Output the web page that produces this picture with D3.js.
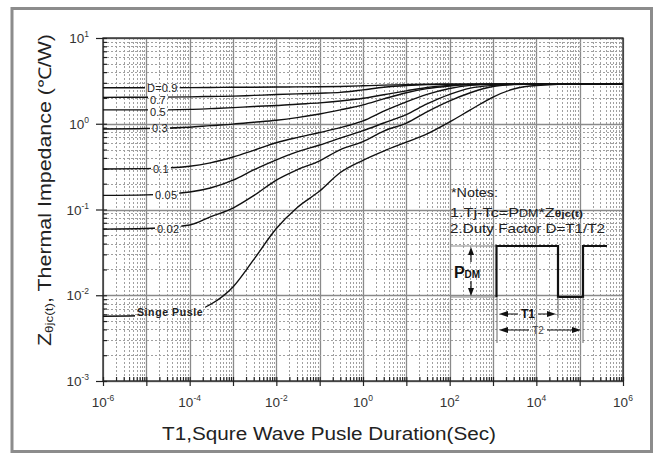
<!DOCTYPE html>
<html lang="en">
<head>
<meta charset="UTF-8">
<title>Transient thermal impedance</title>
<script src="https://cdn.jsdelivr.net/npm/d3@7"></script>
<style>
  body { margin: 0; background: #fff; }
  svg { display: block; font-family: Arial, "Liberation Sans", sans-serif; }
</style>
</head>
<body>
<svg width="657" height="454"></svg>
<script>
var pulseTimes = [1e-6, 1e-5, 1e-4, 3e-4, 1e-3, 3e-3, 1e-2, 3e-2, 0.1, 0.3, 1, 3, 10, 30, 100, 300, 1e3, 3e3, 1e4, 1e5, 1e6];

// Zth (C/W) per duty factor
var zD09 = [2.63, 2.63, 2.64, 2.65, 2.66, 2.67, 2.68, 2.69, 2.70, 2.72, 2.77, 2.82, 2.86, 2.89, 2.90, 2.90, 2.90, 2.90, 2.90, 2.90, 2.90];
var zD07 = [2.03, 2.04, 2.06, 2.08, 2.10, 2.14, 2.19, 2.23, 2.27, 2.32, 2.48, 2.66, 2.79, 2.86, 2.89, 2.90, 2.90, 2.90, 2.90, 2.90, 2.90];
var zD05 = [1.45, 1.45, 1.47, 1.50, 1.54, 1.59, 1.63, 1.69, 1.75, 1.84, 1.98, 2.18, 2.42, 2.65, 2.80, 2.88, 2.90, 2.90, 2.90, 2.90, 2.90];
var zD03 = [0.87, 0.88, 0.91, 0.95, 0.99, 1.04, 1.10, 1.18, 1.30, 1.45, 1.66, 1.95, 2.30, 2.57, 2.76, 2.86, 2.90, 2.90, 2.90, 2.90, 2.90];
var zD01 = [0.297, 0.30, 0.32, 0.35, 0.41, 0.49, 0.60, 0.69, 0.79, 0.90, 1.08, 1.40, 1.80, 2.20, 2.58, 2.80, 2.88, 2.90, 2.90, 2.90, 2.90];
var zD005 = [0.146, 0.148, 0.16, 0.178, 0.22, 0.29, 0.38, 0.47, 0.565, 0.68, 0.83, 1.02, 1.28, 1.70, 2.20, 2.60, 2.80, 2.88, 2.90, 2.90, 2.90];
var zD002 = [0.059, 0.060, 0.066, 0.082, 0.104, 0.145, 0.22, 0.29, 0.37, 0.50, 0.62, 0.82, 1.02, 1.38, 1.85, 2.30, 2.72, 2.86, 2.90, 2.90, 2.90];
var zSingle = [0.0057, 0.0058, 0.0063, 0.0078, 0.0125, 0.026, 0.060, 0.105, 0.164, 0.27, 0.375, 0.48, 0.61, 0.76, 1.05, 1.45, 2.05, 2.54, 2.79, 2.90, 2.90];

var curveNames = ["D=0.9", "0.7", "0.5", "0.3", "0.1", "0.05", "0.02", "Singe Pusle"];
var curveValues = [zD09, zD07, zD05, zD03, zD01, zD005, zD002, zSingle];

// axis tick exponents
var xExponents = [-6, -4, -2, 0, 2, 4, 6];
var yExponents = [-3, -2, -1, 0, 1];

var svg = d3.select("svg");
var pLeft = 103, pRight = 623, pTop = 38, pBottom = 381;

var x = d3.scaleLog().domain([1e-6, 1e6]).range([pLeft, pRight]);
var y = d3.scaleLog().domain([1e-3, 10]).range([pBottom, pTop]);

// 1..9 x 10^n for every decade of a domain
function logSteps(lo, hi) {
    var out = [];
    for (var e = lo; e < hi; e++) {
        for (var k = 1; k < 10; k++) out.push(k * Math.pow(10, e));
    }
    out.push(Math.pow(10, hi));
    return out;
}
function isMajor(v) { return Math.abs(Math.log10(v) - Math.round(Math.log10(v))) < 1e-6; }

// outer frame
svg.append("rect")
    .attr("x", 12).attr("y", 8.5).attr("width", 639.5).attr("height", 443)
    .attr("fill", "#fff").attr("stroke", "#8c8c8c").attr("stroke-width", 3);

// grid
var grid = svg.append("g").attr("class", "grid");
var xAll = logSteps(-6, 6);
var yAll = logSteps(-3, 1);

grid.selectAll("line.gx").data(xAll).enter().append("line")
    .attr("x1", function (d) { return Math.round(x(d)) + 0.5; })
    .attr("x2", function (d) { return Math.round(x(d)) + 0.5; })
    .attr("y1", pTop).attr("y2", pBottom)
    .attr("stroke", function (d) { return isMajor(d) ? "#8a8a8a" : "#a0a0a0"; })
    .attr("stroke-width", function (d) { return isMajor(d) ? 1.3 : 1; })
    .attr("stroke-dasharray", function (d) { return isMajor(d) ? null : "2,2"; });

grid.selectAll("line.gy").data(yAll).enter().append("line")
    .attr("y1", function (d) { return Math.round(y(d)) + 0.5; })
    .attr("y2", function (d) { return Math.round(y(d)) + 0.5; })
    .attr("x1", pLeft).attr("x2", pRight)
    .attr("stroke", function (d) { return isMajor(d) ? "#8a8a8a" : "#a0a0a0"; })
    .attr("stroke-width", function (d) { return isMajor(d) ? 1.3 : 1; })
    .attr("stroke-dasharray", function (d) { return isMajor(d) ? null : "2,2"; });

// axes: major ticks cross the frame, minor ticks point inward
var xMajors = xAll.filter(isMajor), yMajors = yAll.filter(isMajor);
svg.append("g").attr("transform", "translate(0," + pBottom + ")")
    .call(d3.axisBottom(x).tickValues(xAll).tickSizeInner(-4).tickSizeOuter(0).tickFormat(""));
svg.append("g").attr("transform", "translate(0," + pBottom + ")")
    .call(d3.axisBottom(x).tickValues(xMajors).tickSizeInner(5).tickSizeOuter(0).tickFormat(""));
svg.append("g").attr("transform", "translate(" + pLeft + ",0)")
    .call(d3.axisLeft(y).tickValues(yAll).tickSizeInner(-4).tickSizeOuter(0).tickFormat(""));
svg.append("g").attr("transform", "translate(" + pLeft + ",0)")
    .call(d3.axisLeft(y).tickValues(yMajors).tickSizeInner(7).tickSizeOuter(0).tickFormat(""));
svg.selectAll(".domain").remove();
svg.selectAll(".tick line").attr("stroke", "#222").attr("stroke-width", 1.2);

// plot frame
svg.append("rect")
    .attr("x", pLeft).attr("y", pTop).attr("width", pRight - pLeft).attr("height", pBottom - pTop)
    .attr("fill", "none").attr("stroke", "#222").attr("stroke-width", 1.3);

// tick labels
var xl = svg.append("g").selectAll("text").data(xExponents).enter().append("text")
    .attr("x", function (d) { return x(Math.pow(10, d)); })
    .attr("y", 407)
    .attr("text-anchor", "middle")
    .attr("fill", "#333").attr("font-size", 13.5);
xl.append("tspan").text("10");
xl.append("tspan").attr("dy", -6).attr("font-size", 8.5).text(function (d) { return d; });

var yl = svg.append("g").selectAll("text").data(yExponents).enter().append("text")
    .attr("x", 89)
    .attr("y", function (d) { return y(Math.pow(10, d)) + 5; })
    .attr("text-anchor", "end")
    .attr("fill", "#333").attr("font-size", 13.5);
yl.append("tspan").text("10");
yl.append("tspan").attr("dy", -6).attr("font-size", 8.5).text(function (d) { return d; });

// axis titles
svg.append("text")
    .attr("x", 329).attr("y", 440)
    .attr("text-anchor", "middle")
    .attr("fill", "#222").attr("font-size", 17.5)
    .attr("textLength", 334).attr("lengthAdjust", "spacingAndGlyphs")
    .text("T1,Squre Wave Pusle Duration(Sec)");

var yt = svg.append("text")
    .attr("transform", "translate(51,190) rotate(-90)")
    .attr("text-anchor", "middle")
    .attr("fill", "#222").attr("font-size", 17.5)
    .attr("textLength", 312).attr("lengthAdjust", "spacingAndGlyphs");
yt.append("tspan").text("Z");
yt.append("tspan").attr("font-size", 11).attr("dy", 2).text("θjc(t)");
yt.append("tspan").attr("dy", -2).text(", Thermal Impedance (℃/W)");

// curves, with gaps behind their labels
var labelX = [147, 150, 150, 152, 153, 155, 157, 137];
var labelDy = [0, 3, 2, -1, 0, 0, 0, -4];

var mask = svg.append("defs").append("mask").attr("id", "labelGaps")
    .attr("maskUnits", "userSpaceOnUse")
    .attr("x", 0).attr("y", 0).attr("width", 657).attr("height", 454);
mask.append("rect").attr("width", 657).attr("height", 454).attr("fill", "#fff");

var line = d3.line()
    .x(function (d, i) { return x(pulseTimes[i]); })
    .y(function (d) { return y(d); })
    .curve(d3.curveMonotoneX);

svg.append("g").attr("mask", "url(#labelGaps)")
    .selectAll("path").data(curveValues).enter().append("path")
    .attr("d", line)
    .attr("fill", "none").attr("stroke", "#111").attr("stroke-width", 1.4);

var labels = svg.append("g").selectAll("text").data(curveNames).enter().append("text")
    .attr("x", function (d, i) { return labelX[i]; })
    .attr("y", function (d, i) { return y(curveValues[i][0]) + labelDy[i]; })
    .attr("dy", "0.35em")
    .attr("fill", "#222")
    .attr("font-size", function (d, i) { return i === 7 ? 10.5 : 11; })
    .attr("font-weight", function (d, i) { return i === 7 ? "bold" : "normal"; })
    .attr("letter-spacing", function (d, i) { return i === 7 ? 0.6 : 0.2; })
    .text(function (d) { return d; });

labels.each(function () {
    var b = this.getBBox();
    mask.append("rect")
        .attr("x", b.x - 2).attr("y", b.y - 2)
        .attr("width", b.width + 4).attr("height", b.height + 4)
        .attr("fill", "#000");
});

// notes
var notes = svg.append("g").attr("fill", "#222").attr("font-size", 13);
notes.append("text").attr("x", 451).attr("y", 197).attr("textLength", 47).attr("lengthAdjust", "spacingAndGlyphs").text("*Notes:");
var n1 = notes.append("text").attr("x", 450).attr("y", 217)
    .attr("textLength", 133).attr("lengthAdjust", "spacingAndGlyphs");
n1.append("tspan").text("1.Tj-Tc=P");
n1.append("tspan").attr("font-size", 10).text("DM");
n1.append("tspan").text("*Z");
n1.append("tspan").attr("font-size", 9.5).attr("font-weight", "bold").text("θjc(t)");
notes.append("text").attr("x", 450).attr("y", 233).attr("textLength", 155).attr("lengthAdjust", "spacingAndGlyphs").text("2.Duty Factor D=T1/T2");

// pulse sketch
var pg = svg.append("g").attr("transform", "translate(497,246)");
var hi = 0, lo = 51;
pg.append("path").attr("d", "M-47," + hi + "H0M-47," + lo + "H0").attr("stroke", "#888").attr("stroke-width", 1).attr("fill", "none");
pg.append("path").attr("d", "M-0.5," + lo + "V" + hi + "H61V" + lo + "H86V" + hi + "H110")
    .attr("fill", "none").attr("stroke", "#111").attr("stroke-width", 2.2);
pg.append("path").attr("d", "M0," + lo + "V97M61," + lo + "V72M86," + lo + "V97")
    .attr("stroke", "#555").attr("stroke-width", 0.9);

function arrowHead(g, tx, ty, dir) {
    var p;
    if (dir === "up") p = [[tx, ty], [tx - 3, ty + 8], [tx + 3, ty + 8]];
    if (dir === "down") p = [[tx, ty], [tx - 3, ty - 8], [tx + 3, ty - 8]];
    if (dir === "left") p = [[tx, ty], [tx + 9, ty - 3], [tx + 9, ty + 3]];
    if (dir === "right") p = [[tx, ty], [tx - 9, ty - 3], [tx - 9, ty + 3]];
    g.append("path").attr("d", "M" + p.join("L") + "Z").attr("fill", "#111");
}
// PDM arrows
pg.append("path").attr("d", "M-26,8V16M-26,35V44").attr("stroke", "#111").attr("stroke-width", 1.2);
arrowHead(pg, -26, 1, "up");
arrowHead(pg, -26, 50, "down");
var pdm = pg.append("text").attr("x", -30).attr("y", 32).attr("text-anchor", "middle").attr("font-weight", "bold").attr("fill", "#111");
pdm.append("tspan").attr("font-size", 16).text("P");
pdm.append("tspan").attr("font-size", 10).text("DM");

// T1 / T2 dimension arrows
pg.append("path").attr("d", "M8,68H21M41,68H52").attr("stroke", "#111").attr("stroke-width", 1.2);
arrowHead(pg, 2, 68, "left");
arrowHead(pg, 59, 68, "right");
pg.append("text").attr("x", 31).attr("y", 72).attr("text-anchor", "middle").attr("font-size", 12).attr("font-weight", "bold").attr("fill", "#111").text("T1");

pg.append("path").attr("d", "M8,84H32M50,84H77").attr("stroke", "#111").attr("stroke-width", 1.1);
arrowHead(pg, 2, 84, "left");
arrowHead(pg, 84, 84, "right");
pg.append("text").attr("x", 41).attr("y", 88).attr("text-anchor", "middle").attr("font-size", 10).attr("fill", "#444").text("T2");
</script>
</body>
</html>
